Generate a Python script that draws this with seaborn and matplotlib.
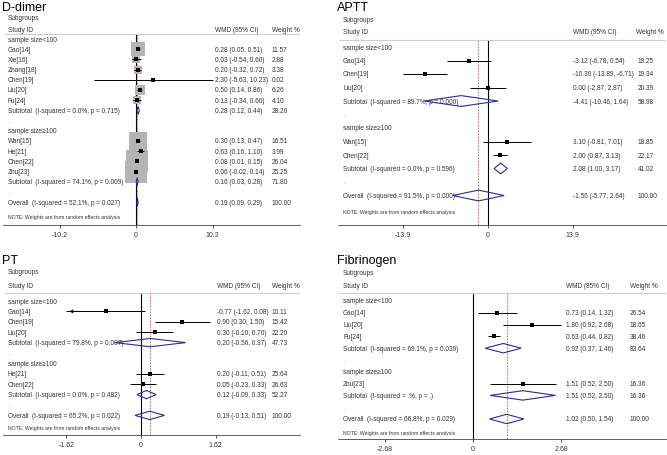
import numpy as np
import pandas as pd
import matplotlib.pyplot as plt
import seaborn as sns
from matplotlib.patches import Polygon

# -----------------------------
# data
# -----------------------------
group_names = ["sample size<100", "sample size\u2265100"]

# D-dimer
dd_g1_study = ["Gao[14]", "Xie[16]", "Zhang[18]", "Chen[19]", "Liu[20]", "Fu[24]"]
dd_g1_est = [0.28, 0.03, 0.20, 2.30, 0.50, 0.13]
dd_g1_lo = [0.05, -0.54, -0.32, -5.63, 0.14, -0.34]
dd_g1_hi = [0.51, 0.60, 0.72, 10.23, 0.86, 0.60]
dd_g1_w = [11.57, 2.88, 3.38, 0.02, 6.26, 4.10]
dd_g2_study = ["Wan[15]", "He[21]", "Chen[22]", "Zhu[23]"]
dd_g2_est = [0.30, 0.63, 0.08, 0.06]
dd_g2_lo = [0.13, 0.16, 0.01, -0.02]
dd_g2_hi = [0.47, 1.10, 0.15, 0.14]
dd_g2_w = [16.51, 3.99, 26.04, 25.25]
dd_pooled = [(0.28, 0.12, 0.44, 28.20), (0.16, 0.03, 0.28, 71.80), (0.19, 0.09, 0.29, 100.00)]
dd_i2 = ["0.0%", "74.1%", "52.1%"]
dd_p = ["0.715", "0.009", "0.027"]
dd_ticks = [-10.2, 0, 10.2]

# APTT
ap_g1_study = ["Gao[14]", "Chen[19]", "Liu[20]"]
ap_g1_est = [-3.12, -10.30, 0.00]
ap_g1_lo = [-6.78, -13.89, -2.87]
ap_g1_hi = [0.54, -6.71, 2.87]
ap_g1_w = [19.25, 19.34, 20.39]
ap_g2_study = ["Wan[15]", "Chen[22]"]
ap_g2_est = [3.10, 2.00]
ap_g2_lo = [-0.81, 0.87]
ap_g2_hi = [7.01, 3.13]
ap_g2_w = [18.85, 22.17]
ap_pooled = [(-4.41, -10.46, 1.64, 58.98), (2.08, 1.00, 3.17, 41.02), (-1.56, -5.77, 2.64, 100.00)]
ap_i2 = ["89.7%", "0.0%", "91.5%"]
ap_p = ["0.000", "0.596", "0.000"]
ap_ticks = [-13.9, 0, 13.9]

# PT
pt_g1_study = ["Gao[14]", "Chen[19]", "Liu[20]"]
pt_g1_est = [-0.77, 0.90, 0.30]
pt_g1_lo = [-1.62, 0.30, -0.10]
pt_g1_hi = [0.08, 1.50, 0.70]
pt_g1_w = [10.11, 15.42, 22.20]
pt_g2_study = ["He[21]", "Chen[22]"]
pt_g2_est = [0.20, 0.05]
pt_g2_lo = [-0.11, -0.23]
pt_g2_hi = [0.51, 0.33]
pt_g2_w = [25.64, 26.63]
pt_pooled = [(0.20, -0.56, 0.97, 47.73), (0.12, -0.09, 0.33, 52.27), (0.19, -0.13, 0.51, 100.00)]
pt_i2 = ["79.8%", "0.0%", "65.2%"]
pt_p = ["0.007", "0.482", "0.022"]
pt_ticks = [-1.62, 0, 1.62]

# Fibrinogen
fb_g1_study = ["Gao[14]", "Liu[20]", "Fu[24]"]
fb_g1_est = [0.73, 1.80, 0.63]
fb_g1_lo = [0.14, 0.92, 0.44]
fb_g1_hi = [1.32, 2.68, 0.82]
fb_g1_w = [26.54, 18.65, 38.46]
fb_g2_study = ["Zhu[23]"]
fb_g2_est = [1.51]
fb_g2_lo = [0.52]
fb_g2_hi = [2.50]
fb_g2_w = [16.36]
fb_pooled = [(0.92, 0.37, 1.46, 83.64), (1.51, 0.52, 2.50, 16.36), (1.02, 0.50, 1.54, 100.00)]
fb_i2 = ["69.1%", ".%", "66.8%"]
fb_p = ["0.039", ".", "0.029"]
fb_ticks = [-2.68, 0, 2.68]

# -----------------------------
# style
# -----------------------------
sns.set_theme(style="white")
plt.rcParams['font.family'] = ['Liberation Sans', 'DejaVu Sans']

W, H = 667, 456
fig = plt.figure(figsize=(W / 100, H / 100), dpi=100)
fig.patch.set_facecolor('white')

TXT = '#333333'
NAVY = '#2a2f86'
RED = '#c0504d'
FS = 4.7


def build_rows(g1, g2, pooled, i2, p):
    rows = []
    for gi, studies in enumerate([g1, g2]):
        rows.append(("group", group_names[gi], None))
        for s in studies:
            rows.append(("study", s[0], s[1:]))
        lab = f"Subtotal  (I-squared = {i2[gi]}, p = {p[gi]})"
        rows.append(("sub", lab, pooled[gi]))
        rows.append(("blank", ".", None))
    rows.append(("overall", f"Overall  (I-squared = {i2[2]}, p = {p[2]})", pooled[2]))
    return rows


def draw_panel(title, rows, ticks, sp, boxes=False, arrows=False):
    L, R, T, B = sp['left'], sp['right'], sp['top'], sp['axis']
    z, k, r0, dr = sp['zero'], sp['scale'], sp['row0'], sp['step']
    ax = fig.add_axes([L / W, 1 - B / H, (R - L) / W, (B - T) / H])

    def px(p):
        return (p - z) / k

    def py(p):
        return (p - r0) / dr

    line_r = py(sp['line'])
    axis_r = py(B)
    overall = rows[-1][2][0]

    # null line and overall dashed line
    ax.vlines(0, line_r, axis_r, color='black', lw=0.8, zorder=2)
    ax.vlines(overall, line_r, axis_r, color=RED, lw=0.6, linestyles=(0, (2, 1.6)), zorder=2)
    ax.hlines(line_r, px(L + 1), px(R), color='#cfcfcf', lw=0.8)

    pts = []
    for i, (kind, lab, vals) in enumerate(rows):
        txt_col = '#aaaaaa' if kind == "blank" else TXT
        ax.text(px(sp['lab']), i, lab, fontsize=FS, color=txt_col, va='center', ha='left')
        if kind == "study":
            est, lo, hi, w = vals
            if boxes:
                # grey weight box, area proportional to the study weight
                side = 4.3 * np.sqrt(w) * 0.72
                ax.scatter([est], [i], marker='s', s=side ** 2, color='#b4b4b4', lw=0, zorder=3)
            ax.hlines(i, lo, hi, color='black', lw=0.7, zorder=4)
            if arrows and lo <= ticks[0]:
                ax.annotate('', xy=(lo, i), xytext=(lo + 0.2 * (hi - lo), i),
                            arrowprops=dict(arrowstyle='->', lw=0.7, color='black',
                                            mutation_scale=5), zorder=4)
            pts.append({'row': i, 'est': est})
        if kind in ("sub", "overall"):
            est, lo, hi, w = vals
            h = 0.4
            dia = Polygon([(lo, i), (est, i - h), (hi, i), (est, i + h)], closed=True,
                          facecolor='none', edgecolor=NAVY, lw=0.8, zorder=5)
            ax.add_patch(dia)
        if vals is not None:
            est, lo, hi, w = vals
            ax.text(px(sp['val']), i, f"{est:.2f} ({lo:.2f}, {hi:.2f})", fontsize=FS,
                    color=TXT, va='center', ha='left')
            ax.text(px(sp['wt']), i, f"{w:.2f}", fontsize=FS, color=TXT, va='center', ha='left')

    df = pd.DataFrame(pts)
    sns.scatterplot(data=df, x='est', y='row', marker='s', color='black', s=5,
                    linewidth=0, ax=ax, legend=False, zorder=6)

    # headers
    ax.text(px(L - 1), py(sp['title']), title, fontsize=9, color='black', va='center', ha='left')
    ax.text(px(sp['lab']), py(sp['subg']), "Subgroups", fontsize=FS, color=TXT, va='center')
    ax.text(px(sp['lab']), py(sp['sid']), "Study ID", fontsize=FS, color=TXT, va='center')
    ax.text(px(sp['hval']), py(sp['sid']), "WMD (95% CI)", fontsize=FS, color=TXT, va='center')
    ax.text(px(sp['hwt']), py(sp['sid']), "Weight %", fontsize=FS, color=TXT, va='center')
    ax.text(px(sp['lab']), py(sp['note']), "NOTE: Weights are from random effects analysis",
            fontsize=3.7, color=TXT, va='center')

    ax.set_xlim(px(L), px(R))
    ax.set_ylim(axis_r, py(T))
    ax.set_xlabel('')
    ax.set_ylabel('')
    ax.set_yticks([])
    ax.set_xticks(ticks)
    ax.set_xticklabels([f"{t:g}" for t in ticks])
    ax.tick_params(axis='x', length=2.5, width=0.6, labelsize=5, colors=TXT, pad=2, bottom=True)
    for s in ['left', 'right', 'top']:
        ax.spines[s].set_visible(False)
    ax.spines['bottom'].set_color('#444444')
    ax.spines['bottom'].set_linewidth(0.6)
    ax.patch.set_alpha(0)
    return ax


def studies(names, est, lo, hi, w):
    return list(zip(names, est, lo, hi, w))


dd_rows = build_rows(studies(dd_g1_study, dd_g1_est, dd_g1_lo, dd_g1_hi, dd_g1_w),
                     studies(dd_g2_study, dd_g2_est, dd_g2_lo, dd_g2_hi, dd_g2_w),
                     dd_pooled, dd_i2, dd_p)
ap_rows = build_rows(studies(ap_g1_study, ap_g1_est, ap_g1_lo, ap_g1_hi, ap_g1_w),
                     studies(ap_g2_study, ap_g2_est, ap_g2_lo, ap_g2_hi, ap_g2_w),
                     ap_pooled, ap_i2, ap_p)
pt_rows = build_rows(studies(pt_g1_study, pt_g1_est, pt_g1_lo, pt_g1_hi, pt_g1_w),
                     studies(pt_g2_study, pt_g2_est, pt_g2_lo, pt_g2_hi, pt_g2_w),
                     pt_pooled, pt_i2, pt_p)
fb_rows = build_rows(studies(fb_g1_study, fb_g1_est, fb_g1_lo, fb_g1_hi, fb_g1_w),
                     studies(fb_g2_study, fb_g2_est, fb_g2_lo, fb_g2_hi, fb_g2_w),
                     fb_pooled, fb_i2, fb_p)

# panel layouts in pixels
sp_dd = dict(left=3, right=300, top=0, axis=226, zero=136, scale=7.5, row0=40, step=10.2,
             line=35, title=8, subg=18, sid=30, note=218, lab=8, val=215, wt=272, hval=215, hwt=272)
sp_ap = dict(left=338, right=666, top=0, axis=226, zero=488, scale=6.1, row0=48, step=13.5,
             line=41, title=8, subg=20, sid=33, note=213, lab=343, val=573, wt=638, hval=573, hwt=636)
sp_pt = dict(left=3, right=300, top=250, axis=436, zero=141, scale=46, row0=302, step=10.4,
             line=294, title=261, subg=273, sid=286, note=429, lab=8, val=217, wt=272, hval=217, hwt=272)
sp_fb = dict(left=338, right=666, top=250, axis=440, zero=473, scale=33, row0=302, step=11.8,
             line=294, title=261, subg=274, sid=287, note=434, lab=343, val=566, wt=630, hval=566, hwt=630)

draw_panel("D-dimer", dd_rows, dd_ticks, sp_dd, boxes=True)
draw_panel("APTT", ap_rows, ap_ticks, sp_ap)
draw_panel("PT", pt_rows, pt_ticks, sp_pt, arrows=True)
draw_panel("Fibrinogen", fb_rows, fb_ticks, sp_fb)

fig.savefig("out.png", dpi=100, facecolor='white')
